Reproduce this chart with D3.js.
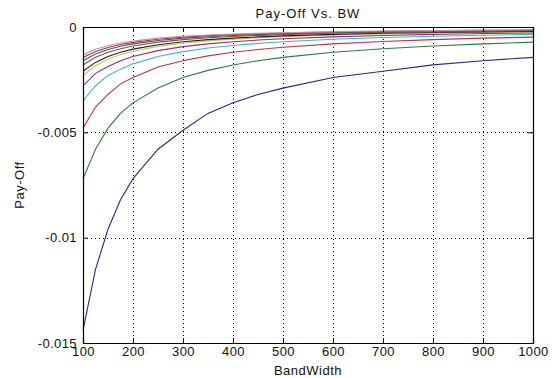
<!DOCTYPE html>
<html>
<head>
<meta charset="utf-8">
<script src="https://cdn.jsdelivr.net/npm/d3@7"></script>
<style>
  body { margin: 0; background: #fff; }
  text { font-family: "Liberation Sans", Arial, sans-serif; }
</style>
</head>
<body>
<script>
// values (pay-off per bandwidth, one array per curve)
var bandwidth = [100, 125, 150, 175, 200, 250, 300, 350, 400, 450, 500, 600, 700, 800, 900, 1000];
var payoff1  = [-0.0144, -0.0115, -0.0096, -0.0082, -0.0072, -0.0058, -0.0049, -0.0041, -0.0036, -0.0032, -0.0029, -0.0024, -0.0021, -0.0018, -0.0016, -0.00144];
var payoff2  = [-0.0072, -0.0058, -0.0048, -0.0041, -0.0036, -0.0029, -0.0024, -0.00206, -0.0018, -0.0016, -0.00144, -0.0012, -0.00103, -0.0009, -0.0008, -0.00072];
var payoff3  = [-0.0048, -0.0038, -0.0032, -0.0027, -0.0024, -0.0019, -0.0016, -0.00137, -0.0012, -0.00107, -0.00096, -0.0008, -0.00069, -0.0006, -0.00053, -0.00048];
var payoff4  = [-0.0035, -0.0028, -0.0023, -0.0020, -0.00175, -0.0014, -0.00117, -0.001, -0.00088, -0.00078, -0.0007, -0.00058, -0.0005, -0.00044, -0.00039, -0.00035];
var payoff5  = [-0.0028, -0.0022, -0.00187, -0.0016, -0.0014, -0.00112, -0.00093, -0.0008, -0.0007, -0.00062, -0.00056, -0.00047, -0.0004, -0.00035, -0.00031, -0.00028];
var payoff6  = [-0.0023, -0.00184, -0.00153, -0.00131, -0.00115, -0.00092, -0.00077, -0.00066, -0.00058, -0.00051, -0.00046, -0.00038, -0.00033, -0.00029, -0.00026, -0.00023];
var payoff7  = [-0.0021, -0.00168, -0.0014, -0.0012, -0.00105, -0.00084, -0.0007, -0.0006, -0.00053, -0.00047, -0.00042, -0.00035, -0.0003, -0.00026, -0.00023, -0.00021];
var payoff8  = [-0.0018, -0.00144, -0.0012, -0.00103, -0.0009, -0.00072, -0.0006, -0.00051, -0.00045, -0.0004, -0.00036, -0.0003, -0.00026, -0.00023, -0.0002, -0.00018];
var payoff9  = [-0.0016, -0.00128, -0.00107, -0.00091, -0.0008, -0.00064, -0.00053, -0.00046, -0.0004, -0.00036, -0.00032, -0.00027, -0.00023, -0.0002, -0.00018, -0.00016];
var payoff10 = [-0.00145, -0.00116, -0.00097, -0.00083, -0.00073, -0.00058, -0.00048, -0.00041, -0.00036, -0.00032, -0.00029, -0.00024, -0.00021, -0.00018, -0.00016, -0.000145];
var payoff11 = [-0.00133, -0.00106, -0.00089, -0.00076, -0.00067, -0.00053, -0.00044, -0.00038, -0.00033, -0.0003, -0.00027, -0.00022, -0.00019, -0.00017, -0.00015, -0.000133];
var curves = [payoff1, payoff2, payoff3, payoff4, payoff5, payoff6, payoff7, payoff8, payoff9, payoff10, payoff11];
var colors = ["#2a2a78", "#2f7a40", "#b03a4a", "#44b4bc", "#8a3088", "#c4c470", "#222222", "#7a5a30", "#555566", "#a03850", "#c890a0"];

var xTicks = [100, 200, 300, 400, 500, 600, 700, 800, 900, 1000];
var yTicks = [0, -0.005, -0.01, -0.015];
var yTickLabels = ["0", "-0.005", "-0.01", "-0.015"];

var w = 552, h = 378;
var padL = 83, padR = 533, padT = 27, padB = 343;

var svg = d3.select("body").append("svg")
    .attr("width", w)
    .attr("height", h);

var x = d3.scaleLinear().domain([100, 1000]).range([padL, padR]);
var y = d3.scaleLinear().domain([-0.015, 0]).range([padB, padT]);

// dotted grid
svg.append("g").selectAll("line")
    .data(xTicks.slice(1, -1))
    .enter().append("line")
    .attr("x1", function(d) { return Math.round(x(d)) + 0.5; })
    .attr("x2", function(d) { return Math.round(x(d)) + 0.5; })
    .attr("y1", padT)
    .attr("y2", padB)
    .style("stroke", "#000")
    .style("stroke-dasharray", "1,3");

svg.append("g").selectAll("line")
    .data(yTicks.slice(1, -1))
    .enter().append("line")
    .attr("x1", padL)
    .attr("x2", padR)
    .attr("y1", function(d) { return Math.round(y(d)) + 0.5; })
    .attr("y2", function(d) { return Math.round(y(d)) + 0.5; })
    .style("stroke", "#000")
    .style("stroke-dasharray", "1,3");

// curves
var line = d3.line()
    .x(function(d, i) { return x(bandwidth[i]); })
    .y(function(d) { return y(d); });

svg.append("g").selectAll("path")
    .data(curves)
    .enter().append("path")
    .attr("d", line)
    .style("fill", "none")
    .style("stroke", function(d, i) { return colors[i]; })
    .style("stroke-width", 1.1);

// axes: ticks point inward, on all four sides like matlab
svg.append("g")
    .attr("transform", "translate(0," + padB + ")")
    .call(d3.axisBottom(x).tickValues(xTicks).tickSize(-5).tickPadding(4).tickFormat(d3.format("d")));
svg.append("g")
    .attr("transform", "translate(0," + padT + ")")
    .call(d3.axisTop(x).tickValues(xTicks).tickSize(-5).tickFormat(""));
svg.append("g")
    .attr("transform", "translate(" + padL + ",0)")
    .call(d3.axisLeft(y).tickValues(yTicks).tickSize(-5).tickPadding(6)
        .tickFormat(function(d, i) { return yTickLabels[i]; }));
svg.append("g")
    .attr("transform", "translate(" + padR + ",0)")
    .call(d3.axisRight(y).tickValues(yTicks).tickSize(-5).tickFormat(""));

svg.selectAll(".domain").style("stroke", "#000").style("stroke-width", 1.2);
svg.selectAll(".tick line").style("stroke", "#000");
svg.selectAll(".tick text")
    .style("font-size", "13px")
    .style("letter-spacing", "0.4px")
    .style("fill", "#111")
    .attr("font-family", null);

// titles
svg.append("text")
    .attr("x", (padL + padR) / 2)
    .attr("y", 18)
    .attr("text-anchor", "middle")
    .style("font-size", "13px")
    .style("letter-spacing", "1px")
    .style("fill", "#111")
    .text("Pay-Off Vs.  BW");

svg.append("text")
    .attr("x", (padL + padR) / 2)
    .attr("y", 375)
    .attr("text-anchor", "middle")
    .style("font-size", "13px")
    .style("letter-spacing", "0.5px")
    .style("fill", "#111")
    .text("BandWidth");

svg.append("text")
    .attr("transform", "translate(24," + ((padT + padB) / 2) + ") rotate(-90)")
    .attr("text-anchor", "middle")
    .style("font-size", "13px")
    .style("letter-spacing", "0.5px")
    .style("fill", "#111")
    .text("Pay-Off");
</script>
</body>
</html>
